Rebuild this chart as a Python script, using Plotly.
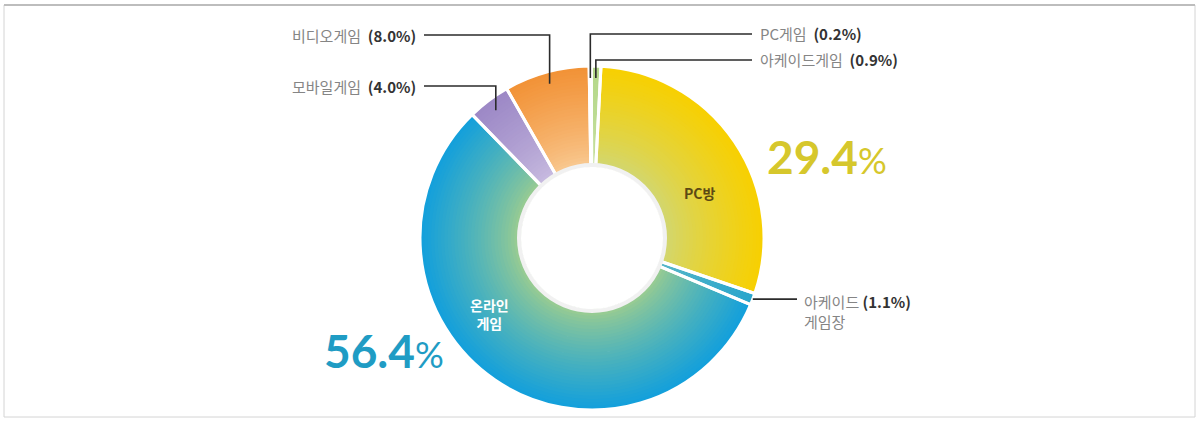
import math
import plotly.graph_objects as go

# Share of game usage by platform (%), clockwise from the top
labels = ["PC방", "아케이드 게임장", "온라인 게임", "모바일게임", "비디오게임", "PC게임", "아케이드게임"]
shares = [29.4, 1.1, 56.4, 4.0, 8.0, 0.2, 0.9]

# Radial gradient per slice: colour at the hole edge -> colour at the rim
inner_colors = ["#cfd77a", "#5cb8c8", "#a6d08a", "#cbbfe2", "#f9cd98", "#b4d488", "#c8e0a0"]
outer_colors = ["#f8d000", "#2aa6cc", "#129fdc", "#9c88c6", "#f29236", "#9cc86c", "#b4d88a"]

W, H = 1198, 425
CX, CY = 592, 238          # pie centre in pixels
R_OUT, R_IN = 172, 72      # outer radius and hole radius in pixels
N_RINGS = 30
ROTATION = 3               # start angle of the first slice, degrees clockwise from 12 o'clock


def hex_to_rgb(h):
    h = h.lstrip("#")
    return tuple(int(h[i:i + 2], 16) for i in (0, 2, 4))


def mix(c0, c1, t):
    a, b = hex_to_rgb(c0), hex_to_rgb(c1)
    return "rgb({},{},{})".format(*(round(a[i] + (b[i] - a[i]) * t) for i in range(3)))


def domain_for(r):
    return dict(x=[(CX - r) / W, (CX + r) / W], y=[1 - (CY + r) / H, 1 - (CY - r) / H])


def px(x, y):
    return x / W, 1 - y / H


fig = go.Figure()

# Concentric rings build the radial colour blend of every slice
for k in range(N_RINGS):
    r0 = R_IN + (R_OUT - R_IN) * k / N_RINGS
    r1 = R_IN + (R_OUT - R_IN) * (k + 1) / N_RINGS
    t = ((k + 0.5) / N_RINGS) ** 0.75
    fig.add_trace(go.Pie(
        values=shares, labels=labels, sort=False, direction="clockwise",
        rotation=ROTATION, hole=max(r0 - 1.0, 0) / r1, domain=domain_for(r1),
        marker=dict(colors=[mix(i, o, t) for i, o in zip(inner_colors, outer_colors)],
                    line=dict(width=0)),
        textinfo="none", hoverinfo="skip", showlegend=False,
    ))

# White separators between slices
fig.add_trace(go.Pie(
    values=shares, labels=labels, sort=False, direction="clockwise",
    rotation=ROTATION, hole=R_IN / R_OUT, domain=domain_for(R_OUT),
    marker=dict(colors=["rgba(0,0,0,0)"] * len(shares), line=dict(color="white", width=3)),
    textinfo="none", hoverinfo="skip", showlegend=False,
))

# Light rim around the hole
fig.add_trace(go.Pie(
    values=[1], labels=["rim"], sort=False, hole=(R_IN - 1) / (R_IN + 3),
    domain=domain_for(R_IN + 3),
    marker=dict(colors=["#f1f1f1"], line=dict(width=0)),
    textinfo="none", hoverinfo="skip", showlegend=False,
))

# Mid angle of each slice, used to anchor the leader lines
mid_angles = []
acc = 0.0
total = sum(shares)
for v in shares:
    mid_angles.append(ROTATION + 360 * (acc + v / 2) / total)
    acc += v


def point_on(idx, r):
    a = math.radians(mid_angles[idx])
    return CX + r * math.sin(a), CY - r * math.cos(a)


shapes = []
annotations = []
LINE = dict(color="#2b2b2b", width=1.6)
LABEL_FONT = dict(family="Noto Sans CJK KR", size=15, color="#858585")

# Elbow leader lines: label row -> above the slice -> down into the slice
elbows = [
    # (slice index, label y, label end x, side)
    (4, 35, 424, "left"),
    (3, 86, 424, "left"),
    (5, 34, 752, "right"),
    (6, 60, 752, "right"),
]
for idx, ly, lx, side in elbows:
    ax, ay = point_on(idx, 160)
    x0, y0 = px(lx, ly)
    x1, y1 = px(ax, ly)
    x2, y2 = px(ax, ay)
    shapes.append(dict(type="path", xref="paper", yref="paper",
                       path=f"M {x0} {y0} L {x1} {y1} L {x2} {y2}", line=LINE))
    text = f"{labels[idx]}  <b><span style='color:#333'>({shares[idx]:.1f}%)</span></b>"
    annotations.append(dict(
        x=(lx - 6) / W if side == "left" else (lx + 6) / W, y=1 - ly / H,
        xref="paper", yref="paper", text=text, showarrow=False,
        xanchor="right" if side == "left" else "left", yanchor="middle",
        font=LABEL_FONT,
    ))

# Straight leader for the arcade-venue slice
ax, ay = point_on(1, R_OUT)
x0, y0 = px(ax, ay)
x1, y1 = px(797, ay)
shapes.append(dict(type="line", xref="paper", yref="paper", x0=x0, y0=y0, x1=x1, y1=y1, line=LINE))
annotations.append(dict(
    x=802 / W, y=1 - (ay - 10) / H, xref="paper", yref="paper",
    text=f"아케이드 <b><span style='color:#333'>({shares[1]:.1f}%)</span></b><br>게임장",
    showarrow=False, xanchor="left", yanchor="top", align="left", font=LABEL_FONT,
))

# Labels inside the two large slices
annotations.append(dict(x=700 / W, y=1 - 193 / H, xref="paper", yref="paper",
                        text="<b>PC방</b>", showarrow=False,
                        font=dict(family="Noto Sans CJK KR", size=14, color="#5c4a14")))
annotations.append(dict(x=490 / W, y=1 - 335 / H, xref="paper", yref="paper",
                        text="<b>온라인<br>게임</b>", showarrow=False, align="center",
                        font=dict(family="Noto Sans CJK KR", size=14, color="white")))

# Large share figures
annotations.append(dict(x=765 / W, y=1 - 156 / H, xref="paper", yref="paper",
                        text=f"<b>{shares[0]}</b><span style='font-size:36px'>%</span>",
                        showarrow=False, xanchor="left", yanchor="middle",
                        font=dict(family="Lato", size=46, color="#d6c72c")))
annotations.append(dict(x=322 / W, y=1 - 350 / H, xref="paper", yref="paper",
                        text=f"<b>{shares[2]}</b><span style='font-size:36px'>%</span>",
                        showarrow=False, xanchor="left", yanchor="middle",
                        font=dict(family="Lato", size=46, color="#1f9cc4")))

# Outer frame
shapes.append(dict(type="rect", xref="paper", yref="paper",
                   x0=4 / W, x1=1195 / W, y0=1 - 417 / H, y1=1 - 5 / H,
                   line=dict(color="#d4d4d4", width=1)))
shapes.append(dict(type="line", xref="paper", yref="paper",
                   x0=4 / W, x1=1195 / W, y0=1 - 5 / H, y1=1 - 5 / H,
                   line=dict(color="#bdbdbd", width=2)))

fig.update_layout(
    width=W, height=H, margin=dict(l=0, r=0, t=0, b=0),
    paper_bgcolor="white", plot_bgcolor="white",
    shapes=shapes, annotations=annotations, showlegend=False,
)

fig.write_html("out.html")
